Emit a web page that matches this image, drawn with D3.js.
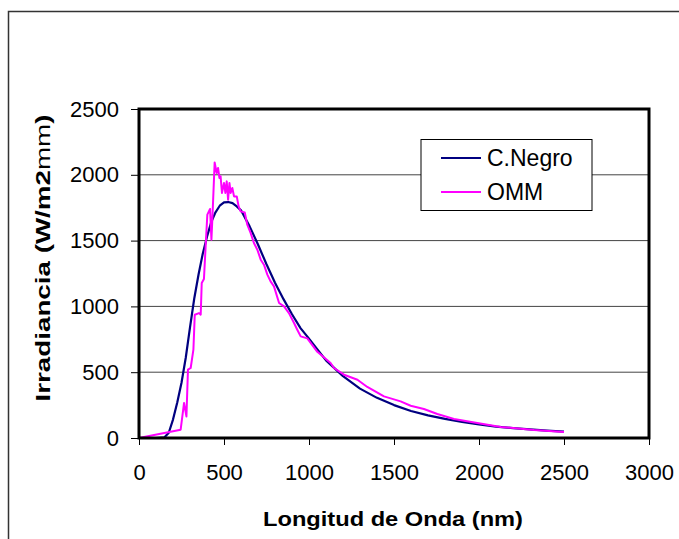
<!DOCTYPE html>
<html><head><meta charset="utf-8">
<script src="https://cdn.jsdelivr.net/npm/d3@7/dist/d3.min.js"></script>
<style>body{margin:0;background:#fff;}svg{display:block;}text{font-family:"Liberation Sans",Arial,sans-serif;}</style>
</head><body>
<svg id="c" width="679" height="539"></svg>
<script>
const xTicks = [0,500,1000,1500,2000,2500,3000];
const yTicks = [0,500,1000,1500,2000,2500];
const seriesNames = ["C.Negro","OMM"];
const negroNm  = [0,100,150,175,200,225,250,275,300,325,350,375,400,425,450,475,500,525,550,575,600,650,700,750,800,850,900,950,1000,1100,1200,1300,1400,1500,1600,1700,1800,1900,2000,2100,2200,2300,2400,2500];
const negroVal = [0,0,5,40,140,270,420,610,840,1060,1240,1400,1530,1640,1715,1765,1790,1793,1785,1760,1730,1610,1470,1320,1180,1055,940,835,755,590,470,375,305,250,205,172,145,122,103,87,75,65,56,49];
const ommNm  = [0,245,265,279,288,304,320,328,353,363,369,382,394,402,418,426,433,445,457,465,473,480,488,500,508,516,524,532,539,549,559,575,586,598,622,637,657,676,696,716,735,755,774,794,824,853,882,912,931,951,990,1049,1127,1147,1206,1285,1343,1441,1539,1598,1676,1755,1853,1990,2128,2324,2500];
const ommVal = [0,63,266,164,519,532,671,937,949,937,1178,1208,1507,1697,1740,1507,1710,2094,2014,2052,1976,1988,1862,1938,1862,1950,1811,1938,1862,1900,1836,1836,1760,1722,1714,1621,1557,1482,1431,1355,1317,1241,1190,1152,1026,1000,949,874,823,772,757,655,570,532,481,443,388,316,278,245,220,182,144,114,84,61,46];

const svg = d3.select("#c");
// outer chart border
svg.append("rect").attr("x",8.5).attr("y",11.5).attr("width",700).attr("height",600)
  .attr("fill","none").attr("stroke","#333").attr("stroke-width",1.5);

const L=139, R=649, T=109, B=438;
const x = d3.scaleLinear().domain([0,3000]).range([L,R]);
const y = d3.scaleLinear().domain([0,2500]).range([B,T]);

// gridlines
svg.append("g").selectAll("line").data(yTicks.filter(v=>v>0 && v<2500)).join("line")
  .attr("x1",L).attr("x2",R).attr("y1",d=>y(d)).attr("y2",d=>y(d))
  .attr("stroke","#444").attr("stroke-width",1);

// axes
const xa = svg.append("g").attr("transform",`translate(0,${B})`)
  .call(d3.axisBottom(x).tickValues(xTicks).tickSize(7).tickPadding(19).tickFormat(d3.format("d")));
const ya = svg.append("g").attr("transform",`translate(${L},0)`)
  .call(d3.axisLeft(y).tickValues(yTicks).tickSize(8).tickPadding(12).tickFormat(d3.format("d")));
[xa,ya].forEach(a=>{
  a.select(".domain").remove();
  a.selectAll(".tick line").attr("stroke","#000").attr("stroke-width",1);
  a.selectAll("text").attr("font-size",22).attr("fill","#000")
   .attr("font-family","'Liberation Sans',Arial,sans-serif");
});

// series
const line = d3.line().x(d=>x(d[0])).y(d=>y(d[1]));
const negro = negroNm.map((n,i)=>[n,negroVal[i]]);
const omm = ommNm.map((n,i)=>[n,ommVal[i]]);
svg.append("path").datum(negro).attr("d",line).attr("fill","none")
  .attr("stroke","#000080").attr("stroke-width",2.2).attr("stroke-linejoin","round");
svg.append("path").datum(omm).attr("d",line).attr("fill","none")
  .attr("stroke","#FF00FF").attr("stroke-width",2).attr("stroke-linejoin","round");

// plot frame
svg.append("rect").attr("x",L).attr("y",T).attr("width",R-L).attr("height",B-T)
  .attr("fill","none").attr("stroke","#000").attr("stroke-width",3);

// legend
const lg = svg.append("g");
lg.append("rect").attr("x",421).attr("y",139.5).attr("width",171).attr("height",71)
  .attr("fill","#fff").attr("stroke","#000").attr("stroke-width",1);
const colors = ["#000080","#FF00FF"];
seriesNames.forEach((s,i)=>{
  const yy = 158 + i*34;
  lg.append("line").attr("x1",441).attr("x2",481).attr("y1",yy).attr("y2",yy)
    .attr("stroke",colors[i]).attr("stroke-width",2);
  lg.append("text").attr("x",487).attr("y",yy+8).attr("font-size",23).text(s);
});

// axis titles
svg.append("text").attr("x",(L+R)/2-1).attr("y",526).attr("text-anchor","middle")
  .attr("font-size",21).attr("font-weight","bold")
  .attr("textLength",260).attr("lengthAdjust","spacingAndGlyphs")
  .text("Longitud de Onda (nm)");
const yt = svg.append("text").attr("transform","translate(50,258) rotate(-90)")
  .attr("text-anchor","middle").attr("font-size",21).attr("font-weight","bold")
  .attr("textLength",287).attr("lengthAdjust","spacingAndGlyphs");
yt.append("tspan").text("Irradiancia (W/m2");
yt.append("tspan").attr("font-weight","normal").text("mm");
yt.append("tspan").text(")");
</script>
</body></html>
